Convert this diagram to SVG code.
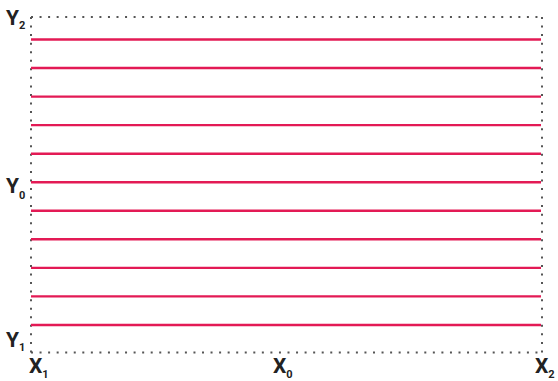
<svg xmlns="http://www.w3.org/2000/svg" width="558" height="381" viewBox="0 0 558 381">
<style>
.frame{fill:none;stroke:#555;stroke-width:2;stroke-dasharray:2 6.55}
.ln{stroke:#e31a55;stroke-width:2.4}
.lbl{font-family:Roboto,"Liberation Sans",sans-serif;font-weight:bold;font-size:21px;fill:#222}
.sub{font-size:11px}
</style>
<rect fill="#fff" width="558" height="381"/>
<g id="frame">
<line class="frame" x1="31" y1="17" x2="542" y2="17"/>
<line class="frame" x1="31" y1="352.5" x2="542" y2="352.5"/>
<line class="frame" x1="31" y1="17" x2="31" y2="352.5"/>
<line class="frame" x1="542" y1="17" x2="542" y2="352.5"/>
</g>
<g id="connectors">
<line class="ln" x1="31" y1="39.5" x2="541" y2="39.5"/>
<line class="ln" x1="31" y1="68" x2="541" y2="68"/>
<line class="ln" x1="31" y1="96.6" x2="541" y2="96.6"/>
<line class="ln" x1="31" y1="125.1" x2="541" y2="125.1"/>
<line class="ln" x1="31" y1="153.7" x2="541" y2="153.7"/>
<line class="ln" x1="31" y1="182.2" x2="541" y2="182.2"/>
<line class="ln" x1="31" y1="210.8" x2="541" y2="210.8"/>
<line class="ln" x1="31" y1="239.3" x2="541" y2="239.3"/>
<line class="ln" x1="31" y1="267.9" x2="541" y2="267.9"/>
<line class="ln" x1="31" y1="296.4" x2="541" y2="296.4"/>
<line class="ln" x1="31" y1="325" x2="541" y2="325"/>
</g>
<g id="labels">
<text class="lbl" x="6" y="25">Y<tspan class="sub" dy="4">2</tspan></text>
<text class="lbl" x="6" y="193">Y<tspan class="sub" dy="6">0</tspan></text>
<text class="lbl" x="6" y="347">Y<tspan class="sub" dy="4">1</tspan></text>
<text class="lbl" x="29" y="373">X<tspan class="sub" dy="5">1</tspan></text>
<text class="lbl" x="273" y="373">X<tspan class="sub" dy="5">0</tspan></text>
<text class="lbl" x="535" y="373">X<tspan class="sub" dy="5">2</tspan></text>
</g>
</svg>
